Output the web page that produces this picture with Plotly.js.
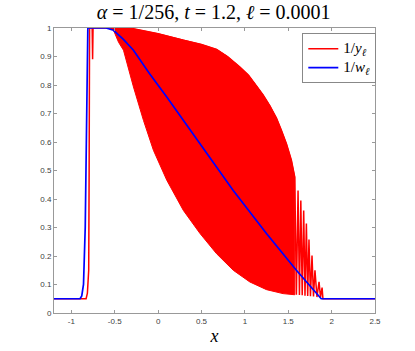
<!DOCTYPE html>
<html>
<head>
<meta charset="utf-8">
<script src="https://cdn.plot.ly/plotly-3.0.1.min.js"></script>
<style>
  html, body { margin: 0; padding: 0; background: #fff; }
  #chart { width: 415px; height: 351px; }
</style>
</head>
<body>
<div id="chart"></div>
<script>
// 1/y_l : upper path of the oscillating curve (rise, envelope top, spikes, flat tail)
var redX = [-1.2, -0.83, -0.815, -0.80, -0.795, -0.79, -0.76, -0.755, -0.75, -0.55,
            -0.284, 0.0, 0.291, 0.5, 0.674, 0.80, 0.943, 1.04, 1.134, 1.21, 1.287,
            1.364, 1.421, 1.479, 1.536, 1.575,
            1.594, 1.613, 1.629, 1.645, 1.661, 1.678, 1.693, 1.709, 1.724, 1.739,
            1.756, 1.774, 1.791, 1.808, 1.831, 1.855, 1.872, 1.89, 1.9, 2.5];
var redY = [0.05, 0.05, 0.07, 0.15, 0.5, 1.0, 1.0, 0.89, 1.0, 1.0,
            0.997, 0.98, 0.957, 0.942, 0.925, 0.90, 0.863, 0.835, 0.797, 0.765, 0.728,
            0.684, 0.641, 0.594, 0.536, 0.477,
            0.064, 0.43, 0.063, 0.395, 0.062, 0.36, 0.061, 0.314, 0.06, 0.258,
            0.059, 0.202, 0.058, 0.15, 0.056, 0.109, 0.055, 0.089, 0.05, 0.05];

// lower envelope of the dense oscillation
var lowX = [-0.55, -0.514, -0.456, -0.399, -0.284, -0.169, -0.054, 0.10, 0.291, 0.483,
            0.674, 0.866, 1.057, 1.249, 1.44, 1.575];
var lowY = [1.0, 0.992, 0.95, 0.922, 0.793, 0.676, 0.571, 0.466, 0.360, 0.279,
            0.208, 0.150, 0.109, 0.082, 0.068, 0.064];

// 1/w_l
var blueX = [-1.2, -0.9, -0.88, -0.86, -0.84, -0.825, -0.81, -0.6, -0.514, -0.4, -0.284,
             -0.1, 0.1, 0.483, 0.866, 1.249, 1.594, 1.88, 2.5];
var blueY = [0.05, 0.05, 0.06, 0.1, 0.3, 0.7, 1, 1, 0.992, 0.96, 0.922,
             0.84, 0.758, 0.594, 0.43, 0.279, 0.15, 0.05, 0.05];

var xTicks = [-1, -0.5, 0, 0.5, 1, 1.5, 2, 2.5];
var xTickText = ['-1', '-0.5', '0', '0.5', '1', '1.5', '2', '2.5'];
var yTicks = [0, 0.1, 0.2, 0.3, 0.4, 0.5, 0.6, 0.7, 0.8, 0.9, 1];
var yTickText = ['0', '0.1', '0.2', '0.3', '0.4', '0.5', '0.6', '0.7', '0.8', '0.9', '1'];

// filled band: top edge from the upper path, back along the lower envelope
var bandX = [], bandY = [];
for (var i = 0; i < redX.length; i++) {
    if (redX[i] >= lowX[0] && redX[i] <= lowX[lowX.length - 1]) {
        bandX.push(redX[i]);
        bandY.push(redY[i]);
    }
}
for (var j = lowX.length - 1; j >= 0; j--) {
    bandX.push(lowX[j]);
    bandY.push(lowY[j]);
}

var serif = 'Liberation Serif, Times New Roman, serif';
var sans = 'Liberation Sans, Arial, sans-serif';
var big = '<span style="font-size:15px">';

var data = [
    {
        x: bandX, y: bandY, mode: 'lines', fill: 'toself',
        fillcolor: '#ff0000', line: {color: '#ff0000', width: 1},
        showlegend: false, hoverinfo: 'skip'
    },
    {
        x: redX, y: redY, mode: 'lines',
        name: big + '1/<i>y</i><sub><i>ℓ</i></sub></span>',
        line: {color: '#ff0000', width: 1.5}
    },
    {
        x: blueX, y: blueY, mode: 'lines',
        name: big + '1/<i>w</i><sub><i>ℓ</i></sub></span>',
        line: {color: '#0000ff', width: 1.7}
    }
];

var axisStyle = {
    showline: true, linecolor: '#999', linewidth: 1, mirror: 'ticks',
    ticks: 'inside', ticklen: 3, tickcolor: '#999', tickwidth: 1,
    showgrid: false, zeroline: false,
    tickfont: {family: sans, size: 8, color: '#404040'}
};

var layout = {
    width: 415, height: 351,
    margin: {l: 54, r: 40, t: 28, b: 38},
    paper_bgcolor: '#fff', plot_bgcolor: '#fff',
    title: {
        text: '<i>α</i> = 1/256, <i>t</i> = 1.2, <i>ℓ</i> = 0.0001',
        font: {family: serif, size: 20, color: '#000'},
        x: 0.515, xanchor: 'center', y: 0.966, yanchor: 'middle'
    },
    xaxis: Object.assign({}, axisStyle, {
        range: [-1.2, 2.5], tickvals: xTicks, ticktext: xTickText,
        title: {text: '<i>x</i>', font: {family: serif, size: 18, color: '#000'}, standoff: 4}
    }),
    yaxis: Object.assign({}, axisStyle, {
        range: [0, 1], tickvals: yTicks, ticktext: yTickText
    }),
    legend: {
        x: 0.7735, y: 0.982, xanchor: 'left', yanchor: 'top',
        bgcolor: '#fff', bordercolor: '#888', borderwidth: 1,
        font: {family: serif, size: 12, color: '#000'}
    },
    showlegend: true
};

Plotly.newPlot('chart', data, layout, {displayModeBar: false, staticPlot: true});
</script>
</body>
</html>
